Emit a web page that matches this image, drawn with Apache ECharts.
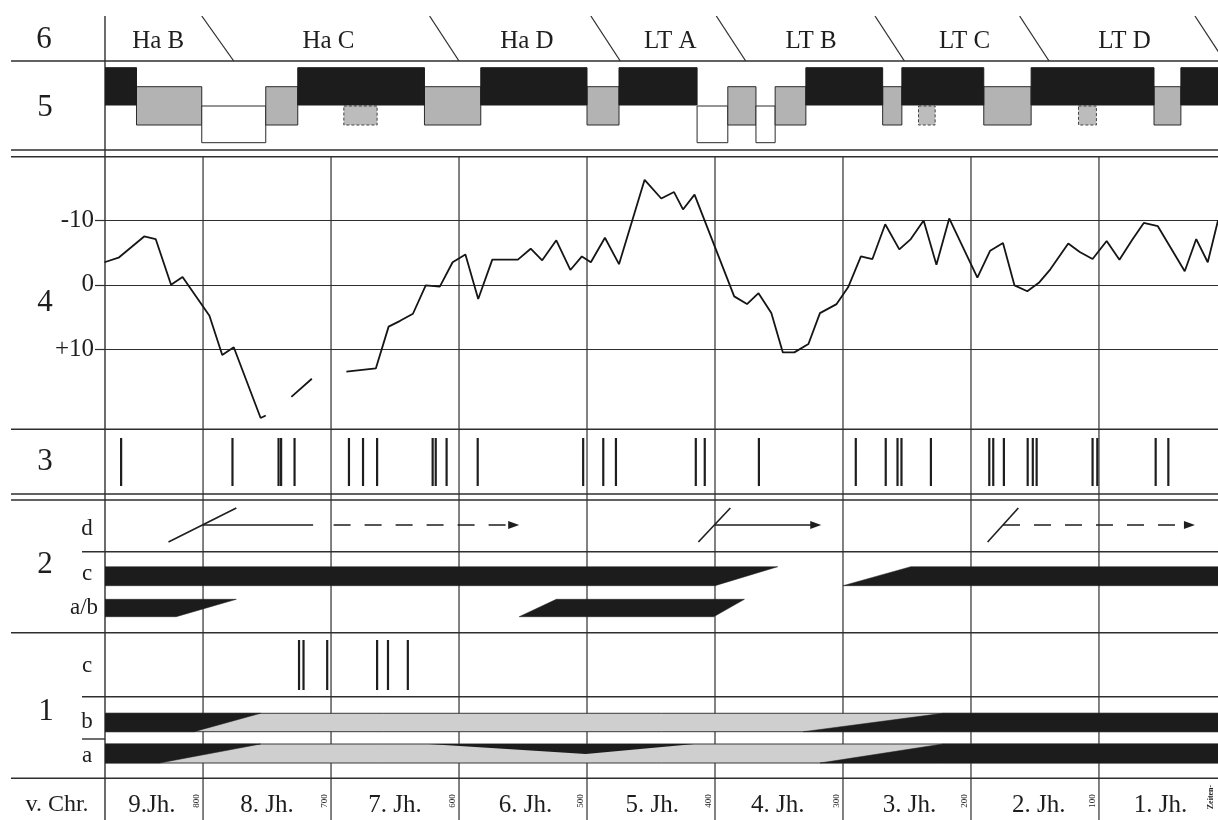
<!DOCTYPE html>
<html>
<head>
<meta charset="utf-8">
<title>Chronologie</title>
<script src="https://cdn.jsdelivr.net/npm/echarts@6.0.0/dist/echarts.min.js"></script>
<style>
html,body{margin:0;padding:0;background:#fff;}
#chart{width:1218px;height:820px;}
</style>
</head>
<body>
<div id="chart"></div>
<script>
// ================= DATA (years v. Chr. = BC) =================
// Row 6: periods
const periodLabels = ['Ha B', 'Ha C', 'Ha D', 'LT A', 'LT B', 'LT C', 'LT D'];
const periodLabelYears = [835, 702, 547, 435, 325, 205, 80];
const periodBoundTop = [801, 623, 497, 399, 275, 162, 25];
const periodBoundBottom = [776, 600, 474, 376, 252, 139, 2];

// Row 5: phases (H = black/high, M = grey/middle, L = white/low)
const climateStart = [877, 852, 801, 751, 726, 627, 583, 500, 475, 414, 390, 368, 353, 329, 269, 254, 190, 153, 57, 36];
const climateEnd   = [852, 801, 751, 726, 627, 583, 500, 475, 414, 390, 368, 353, 329, 269, 254, 190, 153, 57, 36, 0];
const climateLevel = ['H', 'M', 'L', 'M', 'H', 'M', 'H', 'M', 'H', 'L', 'M', 'L', 'M', 'H', 'M', 'H', 'M', 'H', 'M', 'H'];
const uncertainStart = [690, 241, 116];
const uncertainEnd   = [664, 228, 102];

// Row 4: curve (null = gap)
const curveYears = [877, 866, 846, 837, 825, 816, 795, 785, 776, 755, 751, 741, 731, 715, 700,
  688, 665, 655, 646, 636, 626, 615, 605, 595, 585, 574, 554, 544, 535, 524, 513, 504, 497, 486, 475,
  455, 442, 432, 425, 416, 385, 375, 366, 356, 347, 338, 327, 318, 305, 296, 286, 277, 267, 256, 247,
  237, 227, 217, 195, 185, 175, 166, 156, 147, 138, 124, 115, 105, 94, 84, 74, 65, 54, 33, 24, 15, 7];
const curveValues = [-3.5, -4.2, -7.5, -7.1, 0, -1.2, 4.8, 10.9, 9.7, 20.7, 20.3, null, 17.4, 14.6, null,
  13.5, 13.0, 6.5, 5.6, 4.5, 0.1, 0.3, -3.5, -4.7, 2.2, -3.9, -3.9, -5.6, -3.8, -6.9, -2.3, -4.4, -3.5, -7.3, -3.2,
  -16.3, -13.4, -14.4, -11.7, -14.0, 1.8, 3.0, 1.3, 4.4, 10.5, 10.5, 9.2, 4.4, 3.0, 0.4, -4.4, -4.0, -9.4, -5.5, -7.1,
  -10.0, -3.1, -10.3, -1.1, -5.3, -6.5, 0.1, 1.0, -0.3, -2.4, -6.4, -5.1, -4.0, -6.8, -3.9, -7.0, -9.6, -9.1, -2.1, -7.1, -3.5, -10.0];
const curveTicks = [-10, 0, 10];

// Row 3: events
const row3Events = [864, 777, 741, 739, 728.5, 686, 675, 664, 620.6, 618.2, 609.7, 585.4, 503, 487.3, 477.4,
  415, 408, 365.7, 290, 266.6, 257.4, 254.3, 231.3, 185.7, 182.6, 174.3, 155.7, 151.7, 148.7, 105, 101.3, 55.7, 45.8];

// Row 2 d: slanted marks and arrows
const dMarkTop = [774, 388, 163];
const dMarkBottom = [827, 413, 187];
const dSegStart = [800, 698, 400, 175];
const dSegEnd = [714, 553, 317, 25];
const dSegDashed = [0, 1, 0, 1];
const dSegArrow = [0, 1, 1, 1];

// Row 2 bands (trapezoids: top start/end, bottom start/end)
const cTopStart = [880, 247], cTopEnd = [351, 0], cBotStart = [880, 300], cBotEnd = [400, 0];
const abTopStart = [880, 524], abTopEnd = [774, 377], abBotStart = [880, 553], abBotEnd = [821, 401];

// Row 1 c: events
const row1cEvents = [725, 721.5, 703, 664, 655.5, 640];
// Row 1 b / a: grey span and black parts
const greySpan = [877, 0];
const bTopStart = [880, 222], bTopEnd = [755, 0], bBotStart = [880, 331], bBotEnd = [807, 0];
const aTopStart = [880, 222], aTopEnd = [755, 0], aBotStart = [880, 318], aBotEnd = [834, 0];
const aWedge = [624, 501, 416];

// Axis labels
const centuryLines = [800, 700, 600, 500, 400, 300, 200, 100];
const centuryLabels = ['9.Jh.', '8. Jh.', '7. Jh.', '6. Jh.', '5. Jh.', '4. Jh.', '3. Jh.', '2. Jh.', '1. Jh.'];
const centuryLabelYears = [840, 750, 650, 548, 449, 351, 248, 147, 52];
const yearTickLabels = ['800', '700', '600', '500', '400', '300', '200', '100'];

// ================= CHART =================
const SERIF = '"Liberation Serif", "DejaVu Serif", serif';
const INK = '#1e1e1e';
const RULE = '#2e2e2e';
const AX_MIN = -876.6, AX_MAX = -7;

const grids = [
  { left: 105, right: 0, top: 16, height: 45 },    // 0 row 6
  { left: 105, right: 0, top: 61, height: 89 },    // 1 row 5
  { left: 105, right: 0, top: 156, height: 273 },  // 2 row 4
  { left: 105, right: 0, top: 429, height: 65 },   // 3 row 3
  { left: 105, right: 0, top: 500, height: 133 },  // 4 row 2
  { left: 105, right: 0, top: 633, height: 145 },  // 5 row 1
  { left: 105, right: 0, top: 778, height: 42 },   // 6 axis labels
  { left: 105, right: 0, top: 157, height: 663 }   // 7 century lines
];
const xAxes = grids.map((g, i) => ({ type: 'value', gridIndex: i, min: AX_MIN, max: AX_MAX, show: false }));
const yAxes = grids.map((g, i) => ({ type: 'value', gridIndex: i, min: 0, max: 1, show: false }));
yAxes[2] = {
  type: 'value', gridIndex: 2, min: -20, max: 22.4, inverse: true,
  axisLine: { show: false }, splitLine: { show: false },
  axisTick: { show: true, customValues: curveTicks, length: 10, lineStyle: { color: RULE, width: 1.2 } },
  axisLabel: {
    customValues: curveTicks, margin: 11, color: INK, fontFamily: SERIF, fontSize: 25,
    formatter: v => (curveTicks.indexOf(v) < 0 ? '' : (v > 0 ? '+' + v : String(v)))
  }
};

const X = (api, yr) => api.coord([-yr, 0])[0];

function trapezoidSeries(gi, ts, te, bs, be, yTop, yBot, fill) {
  return {
    type: 'custom', xAxisIndex: gi, yAxisIndex: gi, clip: true, silent: true, z: 4,
    data: ts.map((t, i) => [-t, 0, i]),
    renderItem(p, api) {
      const i = p.dataIndex, cs = p.coordSys;
      return {
        type: 'polygon',
        shape: { points: [[X(api, ts[i]), cs.y + yTop], [X(api, te[i]), cs.y + yTop], [X(api, be[i]), cs.y + yBot], [X(api, bs[i]), cs.y + yBot]] },
        style: { fill: fill, stroke: fill, lineWidth: 0.5 }
      };
    }
  };
}
function eventSeries(gi, years, y1, y2) {
  return {
    type: 'custom', xAxisIndex: gi, yAxisIndex: gi, clip: true, silent: true, z: 4,
    data: years.map(y => [-y, 0]),
    renderItem(p, api) {
      const cs = p.coordSys, x = X(api, -api.value(0));
      return { type: 'line', shape: { x1: x, y1: cs.y + y1, x2: x, y2: cs.y + y2 }, style: { stroke: INK, lineWidth: 2.2 } };
    }
  };
}
function greyBandSeries(gi, yTop, yBot) {
  return {
    type: 'custom', xAxisIndex: gi, yAxisIndex: gi, clip: true, silent: true, z: 3,
    data: [[-greySpan[0], 0]],
    renderItem(p, api) {
      const cs = p.coordSys, x1 = X(api, greySpan[0]), x2 = X(api, greySpan[1]);
      return { type: 'rect', shape: { x: x1, y: cs.y + yTop, width: x2 - x1, height: yBot - yTop }, style: { fill: '#cfcfcf', stroke: '#3a3a3a', lineWidth: 1 } };
    }
  };
}

const LEVEL_BOX = { H: [6.7, 44], M: [25.7, 64], L: [45, 81.7] };
const LEVEL_STYLE = {
  H: { fill: '#1c1c1c', stroke: '#1c1c1c', lineWidth: 1 },
  M: { fill: '#b3b3b3', stroke: '#2a2a2a', lineWidth: 1 },
  L: { fill: '#ffffff', stroke: '#2a2a2a', lineWidth: 1 }
};

const series = [
  // century lines (background)
  {
    type: 'custom', xAxisIndex: 7, yAxisIndex: 7, silent: true, z: 1,
    data: centuryLines.map(y => [-y, 0]),
    renderItem(p, api) {
      const cs = p.coordSys, x = X(api, -api.value(0));
      return { type: 'line', shape: { x1: x, y1: cs.y, x2: x, y2: cs.y + cs.height }, style: { stroke: RULE, lineWidth: 1.2 } };
    }
  },
  // row 6 boundaries
  {
    type: 'custom', xAxisIndex: 0, yAxisIndex: 0, clip: true, silent: true,
    data: periodBoundTop.map((t, i) => [-t, 0, i]),
    renderItem(p, api) {
      const i = p.dataIndex, cs = p.coordSys;
      return { type: 'line', shape: { x1: X(api, periodBoundTop[i]), y1: cs.y, x2: X(api, periodBoundBottom[i]), y2: cs.y + cs.height }, style: { stroke: RULE, lineWidth: 1.2 } };
    }
  },
  // row 6 labels
  {
    type: 'custom', xAxisIndex: 0, yAxisIndex: 0, silent: true,
    data: periodLabelYears.map(y => [-y, 0]),
    renderItem(p, api) {
      const cs = p.coordSys;
      return { type: 'text', x: X(api, periodLabelYears[p.dataIndex]), y: cs.y + 25, style: { text: periodLabels[p.dataIndex], fill: INK, font: '25px ' + SERIF, align: 'center', verticalAlign: 'middle' } };
    }
  },
  // row 5 phases
  {
    type: 'custom', xAxisIndex: 1, yAxisIndex: 1, clip: true, silent: true,
    data: climateStart.map((s, i) => [-s, 0, i]),
    renderItem(p, api) {
      const i = p.dataIndex, cs = p.coordSys, lv = climateLevel[i], b = LEVEL_BOX[lv];
      const x1 = X(api, climateStart[i]), x2 = X(api, climateEnd[i]);
      return { type: 'rect', z2: lv === 'H' ? 2 : 1, shape: { x: x1, y: cs.y + b[0], width: x2 - x1, height: b[1] - b[0] }, style: LEVEL_STYLE[lv] };
    }
  },
  {
    type: 'custom', xAxisIndex: 1, yAxisIndex: 1, clip: true, silent: true,
    data: uncertainStart.map((s, i) => [-s, 0, i]),
    renderItem(p, api) {
      const i = p.dataIndex, cs = p.coordSys;
      const x1 = X(api, uncertainStart[i]), x2 = X(api, uncertainEnd[i]);
      return { type: 'rect', shape: { x: x1, y: cs.y + 45, width: x2 - x1, height: 19 }, style: { fill: '#bcbcbc', stroke: '#444', lineWidth: 1, lineDash: [3, 2] } };
    }
  },
  // row 4 curve
  {
    type: 'line', xAxisIndex: 2, yAxisIndex: 2, silent: true, z: 5,
    data: curveYears.map((y, i) => [-y, curveValues[i] === null ? '-' : curveValues[i]]),
    showSymbol: false, symbol: 'none', connectNulls: false,
    lineStyle: { color: '#151515', width: 1.8 },
    markLine: {
      silent: true, symbol: ['none', 'none'], label: { show: false }, animation: false,
      lineStyle: { color: RULE, width: 1.2, type: 'solid' },
      data: curveTicks.map(v => ({ yAxis: v }))
    }
  },
  // row 3 events
  eventSeries(3, row3Events, 9, 57),
  // row 2 d marks
  {
    type: 'custom', xAxisIndex: 4, yAxisIndex: 4, clip: true, silent: true, z: 4,
    data: dMarkTop.map((t, i) => [-t, 0, i]),
    renderItem(p, api) {
      const i = p.dataIndex, cs = p.coordSys;
      return { type: 'line', shape: { x1: X(api, dMarkBottom[i]), y1: cs.y + 42, x2: X(api, dMarkTop[i]), y2: cs.y + 8 }, style: { stroke: INK, lineWidth: 1.6 } };
    }
  },
  {
    type: 'custom', xAxisIndex: 4, yAxisIndex: 4, clip: true, silent: true, z: 4,
    data: dSegStart.map((s, i) => [-s, 0, i]),
    renderItem(p, api) {
      const i = p.dataIndex, cs = p.coordSys, y = cs.y + 25;
      const x1 = X(api, dSegStart[i]), x2 = X(api, dSegEnd[i]);
      const hasArrow = dSegArrow[i] === 1;
      const children = [{
        type: 'line', shape: { x1: x1, y1: y, x2: hasArrow ? x2 - 8 : x2, y2: y },
        style: { stroke: INK, lineWidth: 1.6, lineDash: dSegDashed[i] ? [17, 14] : null }
      }];
      if (hasArrow) {
        children.push({ type: 'polygon', shape: { points: [[x2, y], [x2 - 11, y - 4], [x2 - 11, y + 4]] }, style: { fill: INK } });
      }
      return { type: 'group', children: children };
    }
  },
  trapezoidSeries(4, cTopStart, cTopEnd, cBotStart, cBotEnd, 66.7, 85.7, '#1c1c1c'),
  trapezoidSeries(4, abTopStart, abTopEnd, abBotStart, abBotEnd, 99.3, 116.7, '#1c1c1c'),
  // row 1
  eventSeries(5, row1cEvents, 7, 57),
  greyBandSeries(5, 80.3, 98.7),
  greyBandSeries(5, 111, 130),
  trapezoidSeries(5, bTopStart, bTopEnd, bBotStart, bBotEnd, 80.3, 98.7, '#1c1c1c'),
  trapezoidSeries(5, aTopStart, aTopEnd, aBotStart, aBotEnd, 111, 130, '#1c1c1c'),
  {
    type: 'custom', xAxisIndex: 5, yAxisIndex: 5, clip: true, silent: true, z: 4,
    data: [[-aWedge[0], 0]],
    renderItem(p, api) {
      const cs = p.coordSys;
      return { type: 'polygon', shape: { points: [[X(api, aWedge[0]), cs.y + 111], [X(api, aWedge[1]), cs.y + 121], [X(api, aWedge[2]), cs.y + 111]] }, style: { fill: '#1c1c1c' } };
    }
  },
  // axis labels row
  {
    type: 'custom', xAxisIndex: 6, yAxisIndex: 6, silent: true,
    data: centuryLabelYears.map(y => [-y, 0]),
    renderItem(p, api) {
      const cs = p.coordSys;
      return { type: 'text', x: X(api, centuryLabelYears[p.dataIndex]), y: cs.y + 27, style: { text: centuryLabels[p.dataIndex], fill: INK, font: '25px ' + SERIF, align: 'center', verticalAlign: 'middle' } };
    }
  },
  {
    type: 'custom', xAxisIndex: 6, yAxisIndex: 6, silent: true,
    data: centuryLines.map(y => [-y, 0]),
    renderItem(p, api) {
      const cs = p.coordSys;
      return { type: 'text', x: X(api, centuryLines[p.dataIndex]) - 6, y: cs.y + 23, rotation: Math.PI / 2, style: { text: yearTickLabels[p.dataIndex], fill: INK, font: '9px ' + SERIF, align: 'center', verticalAlign: 'middle' } };
    }
  }
];

const fullRules = [61, 150, 156.7, 429.3, 494, 500, 632.7, 778.3];
const graphic = [];
fullRules.forEach(y => graphic.push({ type: 'line', shape: { x1: 11, y1: y, x2: 1218, y2: y }, style: { stroke: RULE, lineWidth: 1.4 }, silent: true }));
[551.7, 696.7].forEach(y => graphic.push({ type: 'line', shape: { x1: 82, y1: y, x2: 1218, y2: y }, style: { stroke: RULE, lineWidth: 1.4 }, silent: true }));
graphic.push({ type: 'line', shape: { x1: 82, y1: 739, x2: 105, y2: 739 }, style: { stroke: RULE, lineWidth: 1.4 }, silent: true });
graphic.push({ type: 'line', shape: { x1: 105, y1: 16, x2: 105, y2: 820 }, style: { stroke: RULE, lineWidth: 1.4 }, silent: true });
const bigLabels = [['6', 44, 40], ['5', 45, 108], ['4', 45, 303], ['3', 45, 462], ['2', 45, 565], ['1', 46, 712]];
bigLabels.forEach(l => graphic.push({ type: 'text', x: l[1], y: l[2], silent: true, style: { text: l[0], fill: INK, font: '31px ' + SERIF, align: 'center', verticalAlign: 'middle' } }));
const subLabels = [['d', 87, 529], ['c', 87, 574], ['a/b', 84, 608], ['c', 87, 666], ['b', 87, 722], ['a', 87, 756]];
subLabels.forEach(l => graphic.push({ type: 'text', x: l[1], y: l[2], silent: true, style: { text: l[0], fill: INK, font: '23px ' + SERIF, align: 'center', verticalAlign: 'middle' } }));
graphic.push({ type: 'text', x: 57, y: 805, silent: true, style: { text: 'v. Chr.', fill: INK, font: '24px ' + SERIF, align: 'center', verticalAlign: 'middle' } });
graphic.push({ type: 'text', x: 1211, y: 797, rotation: Math.PI / 2, silent: true, style: { text: 'Zeiten-', fill: INK, font: 'bold 8px ' + SERIF, align: 'center', verticalAlign: 'middle' } });

const chart = echarts.init(document.getElementById('chart'), null, { renderer: 'canvas' });
chart.setOption({
  animation: false,
  backgroundColor: '#ffffff',
  grid: grids,
  xAxis: xAxes,
  yAxis: yAxes,
  series: series,
  graphic: graphic
});
</script>
</body>
</html>
